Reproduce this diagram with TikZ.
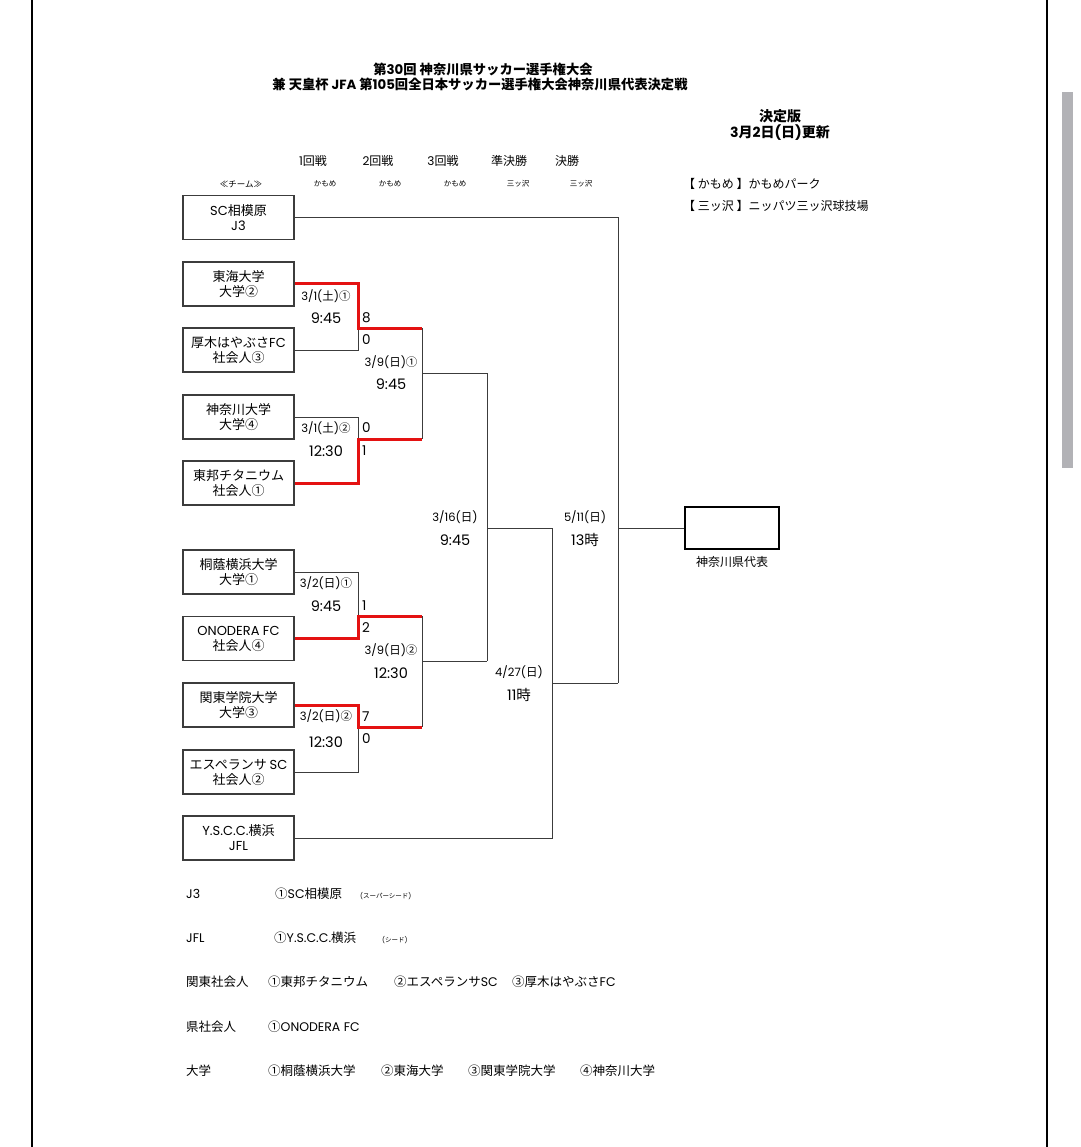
\documentclass[tikz,border=0pt]{standalone}
\usepackage{fontspec}
\setmainfont{Poppins}
\newfontfamily\cjkfont{Noto Sans CJK JP}
\definecolor{linegray}{RGB}{60,60,60}
\definecolor{winred}{RGB}{228,18,18}
\definecolor{scrollgray}{RGB}{178,178,182}

% Japanese characters in Noto Sans CJK JP, Latin in Poppins
\XeTeXinterchartokenstate=1
\newXeTeXintercharclass\cjkclass
\newcount\cjkcode
\def\cjkrange#1#2{\cjkcode=#1\relax
	\loop\XeTeXcharclass\cjkcode=\cjkclass\relax
	\ifnum\cjkcode<#2\advance\cjkcode by 1\repeat}
\cjkrange{"2460}{"24FF}
\cjkrange{"226A}{"226B}
\cjkrange{"3000}{"30FF}
\cjkrange{"4E00}{"9FFF}
\cjkrange{"FF00}{"FFEF}
\XeTeXinterchartoks 0 \cjkclass = {\cjkfont}
\XeTeXinterchartoks 4095 \cjkclass = {\cjkfont}
\XeTeXinterchartoks \cjkclass 0 = {\rmfamily}
\XeTeXinterchartoks 4095 0 = {\rmfamily}

\begin{document}
\begin{tikzpicture}[x=1pt,y=-1pt,
	teambox/.style={draw=linegray, line width=1.3pt, minimum width=111pt, minimum height=44pt,
		inner sep=0pt, align=center, font=\fontsize{13}{15}\selectfont},
	bracket/.style={draw=linegray, line width=1pt},
	winline/.style={draw=winred, line width=3pt},
	datelbl/.style={font=\fontsize{11.5}{13}\selectfont, inner sep=0pt},
	timelbl/.style={font=\fontsize{14.5}{16}\selectfont, inner sep=0pt},
	scorelbl/.style={font=\fontsize{13.5}{15}\selectfont, anchor=west, inner sep=0pt},
	roundlbl/.style={font=\fontsize{12}{14}\selectfont, inner sep=0pt},
	venuelbl/.style={font=\fontsize{7.5}{9}\selectfont, inner sep=0pt},
	listlbl/.style={font=\fontsize{12.5}{15}\selectfont, anchor=west, inner sep=0pt},
	tinylbl/.style={font=\fontsize{6.5}{8}\selectfont, anchor=west, inner sep=0pt},
	]
	\useasboundingbox (0,0) rectangle (1080,1147);

	% Page frame and scroll bar
	\draw[line width=2pt] (32,0) -- (32,1147);
	\draw[line width=2pt] (1047,0) -- (1047,1147);
	\fill[scrollgray] (1062,92) rectangle (1073,468);

	% Titles
	\node[font=\bfseries\fontsize{13.3}{15}\selectfont] (title1) at (483,69) {第30回 神奈川県サッカー選手権大会};
	\node[font=\bfseries\fontsize{13.3}{15}\selectfont] (title2) at (480,84) {兼 天皇杯 JFA 第105回全日本サッカー選手権大会神奈川県代表決定戦};
	\node[font=\bfseries\fontsize{14}{16}\selectfont, align=center] (edition) at (780,125) {決定版\\3月2日(日)更新};

	% Rounds and venues
	\foreach \rnd/\x in {1回戦/313, 2回戦/378, 3回戦/443, 準決勝/509, 決勝/567}
		\node[roundlbl] (round-\x) at (\x,161) {\rnd};
	\node[venuelbl, font=\fontsize{8.5}{10}\selectfont] (teamhead) at (241,184) {≪チーム≫};
	\foreach \ven/\x in {かもめ/325, かもめ/390, かもめ/455, 三ッ沢/518, 三ッ沢/581}
		\node[venuelbl] (venue-\x) at (\x,184) {\ven};

	% Venue legend
	\node[listlbl, font=\fontsize{12}{14}\selectfont] (kamome) at (683,184) {【 かもめ 】かもめパーク};
	\node[listlbl, font=\fontsize{12}{14}\selectfont] (mitsuzawa) at (683,206) {【 三ッ沢 】ニッパツ三ッ沢球技場};

	% Teams
	\node[teambox] (t1) at (238.5,217.5) {SC相模原\\J3};
	\node[teambox] (t2) at (238.5,284) {東海大学\\大学②};
	\node[teambox] (t3) at (238.5,350) {厚木はやぶさFC\\社会人③};
	\node[teambox] (t4) at (238.5,417) {神奈川大学\\大学④};
	\node[teambox] (t5) at (238.5,483) {東邦チタニウム\\社会人①};
	\node[teambox] (t6) at (238.5,572) {桐蔭横浜大学\\大学①};
	\node[teambox] (t7) at (238.5,638.5) {ONODERA FC\\社会人④};
	\node[teambox] (t8) at (238.5,705) {関東学院大学\\大学③};
	\node[teambox] (t9) at (238.5,772) {エスペランサ SC\\社会人②};
	\node[teambox] (t10) at (238.5,838) {Y.S.C.C.横浜\\JFL};

	% Winner box
	\node[draw, line width=2.5pt, minimum width=94pt, minimum height=42pt] (champ) at (732,528) {};
	\node[font=\fontsize{12}{14}\selectfont] (champlbl) at (732,562) {神奈川県代表};

	% Bracket points
	\coordinate (a1) at (358,328);
	\coordinate (b1) at (358,439);
	\coordinate (c1) at (358,616);
	\coordinate (d1) at (358,727);
	\coordinate (q1) at (422,328);
	\coordinate (q2) at (422,439);
	\coordinate (q3) at (422,616);
	\coordinate (q4) at (422,727);
	\coordinate (p1) at (422,373);
	\coordinate (p2) at (422,661);
	\coordinate (s1) at (487,373);
	\coordinate (s2) at (487,661);
	\coordinate (s0) at (487,528);
	\coordinate (u1) at (552,528);
	\coordinate (u0) at (552,683);
	\coordinate (v1) at (618,683);
	\coordinate (v0) at (618,528);

	% Black lines
	\draw[bracket] (t3.east) -| (a1);
	\draw[bracket] (t4.east) -| (b1);
	\draw[bracket] (t6.east) -| (c1);
	\draw[bracket] (t9.east) -| (d1);
	\draw[bracket] (q1) -- (q2);
	\draw[bracket] (q3) -- (q4);
	\draw[bracket] (p1) -- (s1);
	\draw[bracket] (p2) -- (s2);
	\draw[bracket] (s1) -- (s2);
	\draw[bracket] (s0) -- (u1);
	\draw[bracket] (t10.east) -| (u1);
	\draw[bracket] (u0) -- (v1);
	\draw[bracket] (t1.east) -| (v1);
	\draw[bracket] (v0) -- (champ.west);

	% Red lines (winners)
	\draw[winline] (t2.east) -| (a1) -- (q1);
	\draw[winline] (t5.east) -| (b1) -- (q2);
	\draw[winline] (t7.east) -| (c1) -- (q3);
	\draw[winline] (t8.east) -| (d1) -- (q4);

	% First round
	\node[datelbl] (m1date) at (326,296) {3/1(土)①};
	\node[timelbl] (m1time) at (326,318) {9:45};
	\node[scorelbl] (m1s1) at (362,318) {8};
	\node[scorelbl] (m1s2) at (362,340) {0};
	\node[datelbl] (m2date) at (326,428) {3/1(土)②};
	\node[timelbl] (m2time) at (326,451) {12:30};
	\node[scorelbl] (m2s1) at (362,428) {0};
	\node[scorelbl] (m2s2) at (362,451) {1};
	\node[datelbl] (m3date) at (326,583) {3/2(日)①};
	\node[timelbl] (m3time) at (326,606) {9:45};
	\node[scorelbl] (m3s1) at (362,606) {1};
	\node[scorelbl] (m3s2) at (362,628) {2};
	\node[datelbl] (m4date) at (326,716) {3/2(日)②};
	\node[timelbl] (m4time) at (326,742) {12:30};
	\node[scorelbl] (m4s1) at (362,717) {7};
	\node[scorelbl] (m4s2) at (362,739) {0};

	% Later rounds
	\node[datelbl] (r2adate) at (391,362) {3/9(日)①};
	\node[timelbl] (r2atime) at (391,384) {9:45};
	\node[datelbl] (r2bdate) at (391,650) {3/9(日)②};
	\node[timelbl] (r2btime) at (391,673) {12:30};
	\node[datelbl] (r3date) at (455,517) {3/16(日)};
	\node[timelbl] (r3time) at (455,540) {9:45};
	\node[datelbl] (sfdate) at (519,672) {4/27(日)};
	\node[timelbl] (sftime) at (519,695) {11時};
	\node[datelbl] (fdate) at (585,517) {5/11(日)};
	\node[timelbl] (ftime) at (585,540) {13時};

	% Seeds
	\node[listlbl] (catj3) at (186,894) {J3};
	\node[listlbl] (seedj3) at (275,894) {①SC相模原};
	\node[tinylbl] (notej3) at (360,896) {(スーパーシード)};
	\node[listlbl] (catjfl) at (186,938) {JFL};
	\node[listlbl] (seedjfl) at (274,938) {①Y.S.C.C.横浜};
	\node[tinylbl] (notejfl) at (382,940) {(シード)};
	\node[listlbl] (catkanto) at (186,982) {関東社会人};
	\node[listlbl] (kanto1) at (268,982) {①東邦チタニウム};
	\node[listlbl] (kanto2) at (394,982) {②エスペランサSC};
	\node[listlbl] (kanto3) at (512,982) {③厚木はやぶさFC};
	\node[listlbl] (catken) at (186,1027) {県社会人};
	\node[listlbl] (ken1) at (268,1027) {①ONODERA FC};
	\node[listlbl] (catuniv) at (186,1071) {大学};
	\node[listlbl] (univ1) at (268,1071) {①桐蔭横浜大学};
	\node[listlbl] (univ2) at (381,1071) {②東海大学};
	\node[listlbl] (univ3) at (468,1071) {③関東学院大学};
	\node[listlbl] (univ4) at (580,1071) {④神奈川大学};
\end{tikzpicture}
\end{document}
